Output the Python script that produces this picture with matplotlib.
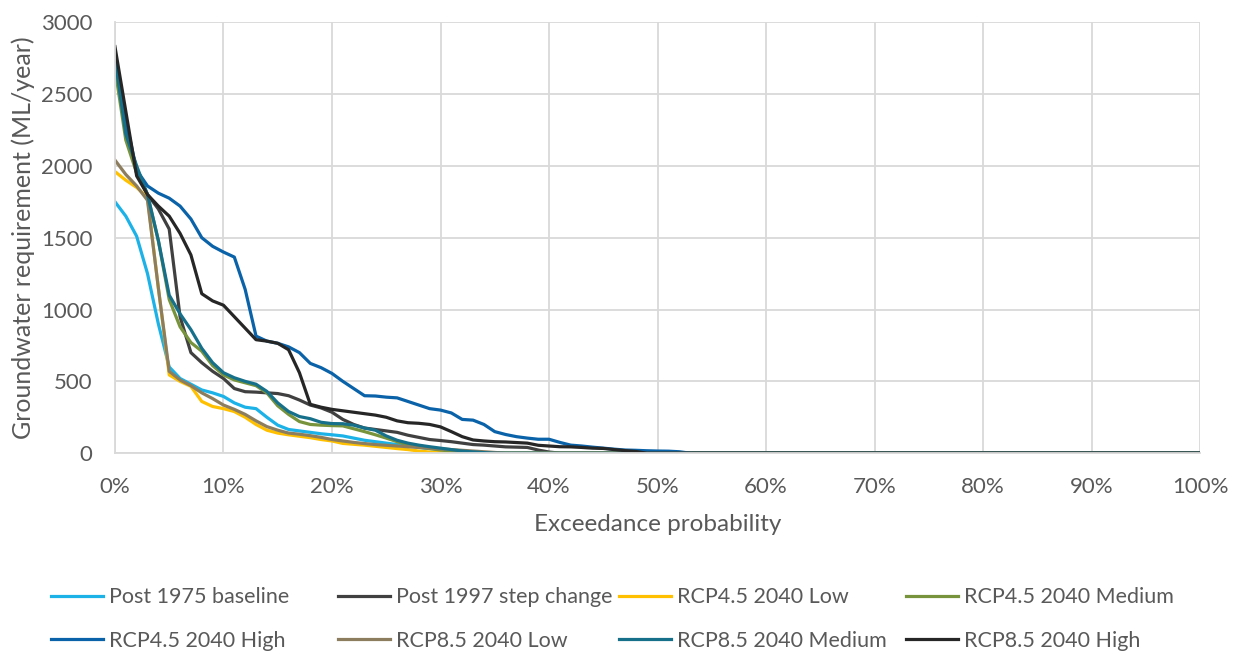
import numpy as np
import matplotlib.pyplot as plt
from matplotlib.ticker import PercentFormatter

plt.rcParams['font.family'] = ['Lato', 'DejaVu Sans']

# groundwater requirement (ML/year) at 1% exceedance steps, up to where each curve reaches zero
post_1975 = [1750, 1650, 1510, 1250, 900, 600, 520, 480, 440, 420, 395, 350, 320, 310, 250, 195,
             165, 155, 145, 135, 128, 120, 105, 90, 80, 70, 60, 50, 40, 33, 27, 20, 12, 6, 0]
post_1997 = [2780, 2300, 1950, 1800, 1700, 1560, 950, 700, 630, 570, 520, 450, 428, 425, 420, 415,
             400, 370, 335, 315, 285, 235, 200, 175, 165, 155, 145, 125, 110, 95, 88, 80, 70, 60,
             56, 50, 44, 42, 40, 22, 8, 0]
rcp45_low = [1960, 1900, 1850, 1780, 1150, 545, 500, 465, 360, 325, 310, 290, 250, 200, 160, 140,
             128, 118, 108, 95, 85, 68, 62, 56, 48, 40, 32, 25, 15, 8, 5, 3, 0]
rcp45_med = [2680, 2180, 1950, 1800, 1480, 1070, 880, 770, 710, 610, 545, 510, 490, 470, 420, 330,
             270, 220, 200, 195, 192, 190, 170, 150, 128, 105, 80, 58, 42, 32, 22, 15, 10, 5, 0]
rcp45_high = [2800, 2320, 1970, 1860, 1810, 1775, 1720, 1630, 1500, 1440, 1400, 1365, 1140, 815, 780,
              765, 740, 700, 625, 595, 555, 500, 450, 400, 398, 390, 385, 360, 335, 310, 300, 280,
              235, 230, 200, 150, 130, 115, 105, 97, 97, 75, 56, 50, 42, 35, 28, 22, 20, 17, 15,
              14, 10, 0]
rcp85_low = [2040, 1940, 1860, 1760, 1150, 570, 510, 470, 420, 380, 335, 305, 270, 225, 185, 160,
             140, 132, 122, 110, 95, 85, 75, 67, 60, 55, 50, 45, 40, 35, 30, 25, 20, 15, 10, 5, 0]
rcp85_med = [2750, 2220, 2000, 1800, 1480, 1100, 970, 860, 730, 630, 560, 525, 500, 480, 430, 350,
             290, 255, 240, 215, 206, 205, 195, 175, 160, 120, 90, 70, 56, 45, 35, 25, 15, 9, 4, 0]
rcp85_high = [2830, 2380, 1930, 1800, 1720, 1650, 1530, 1380, 1110, 1060, 1030, 950, 870, 790, 780,
              765, 720, 560, 340, 320, 305, 295, 285, 275, 265, 250, 225, 212, 208, 200, 183, 150,
              115, 92, 85, 80, 78, 74, 70, 55, 50, 45, 44, 40, 35, 33, 25, 18, 12, 0]

labels = ['Post 1975 baseline', 'Post 1997 step change', 'RCP4.5 2040 Low', 'RCP4.5 2040 Medium',
          'RCP4.5 2040 High', 'RCP8.5 2040 Low', 'RCP8.5 2040 Medium', 'RCP8.5 2040 High']
series = [post_1975, post_1997, rcp45_low, rcp45_med, rcp45_high, rcp85_low, rcp85_med, rcp85_high]
colors = ['#1CB2E8', '#404040', '#FFC000', '#77933C', '#0A62A8', '#8C7D5E', '#17708A', '#262626']

exceed = np.arange(101) / 100
grey = '#595959'

fig = plt.figure(figsize=(12.36, 6.53), dpi=100)
ax = fig.add_axes([0.093, 0.306, 0.878, 0.66])

handles = []
for vals, lab, col in zip(series, labels, colors):
    y = np.pad(np.array(vals, dtype=float), (0, len(exceed) - len(vals)))
    h, = ax.plot(exceed, y, color=col, lw=2.3, label=lab, solid_joinstyle='round')
    handles.append(h)

ax.set_xlim(0, 1)
ax.set_ylim(0, 3000)
ax.set_xticks(np.arange(0, 1.01, 0.1))
ax.set_yticks(np.arange(0, 3001, 500))
ax.xaxis.set_major_formatter(PercentFormatter(1.0, decimals=0))
ax.grid(True, color='#D9D9D9', lw=1.3)
ax.set_axisbelow(True)
for s in ['top', 'right']:
    ax.spines[s].set_visible(False)
for s in ['left', 'bottom']:
    ax.spines[s].set_color('#D9D9D9')
    ax.spines[s].set_linewidth(1.3)
ax.tick_params(length=0, labelsize=16, labelcolor=grey)
ax.tick_params(axis='y', pad=16)
ax.tick_params(axis='x', pad=17)
ax.set_xlabel('Exceedance probability', fontsize=17.5, color=grey)
ax.set_ylabel('Groundwater requirement (ML/year)', fontsize=18, color=grey)
ax.xaxis.set_label_coords(0.5, -0.14)
ax.yaxis.set_label_coords(-0.074, 0.5)

# Excel-style legend: four evenly spaced columns, two rows
col_x = [51, 338, 619, 906]
for c, x0 in enumerate(col_x):
    leg = fig.legend([handles[c], handles[c + 4]], [labels[c], labels[c + 4]],
                     loc='upper left', bbox_to_anchor=(x0 / 1236, 0.101), frameon=False,
                     fontsize=15.5, borderpad=0, borderaxespad=0, handlelength=2.4,
                     handletextpad=0.28, labelspacing=1.1)
    for t in leg.get_texts():
        t.set_color(grey)

fig.savefig('out.png', dpi=100)
